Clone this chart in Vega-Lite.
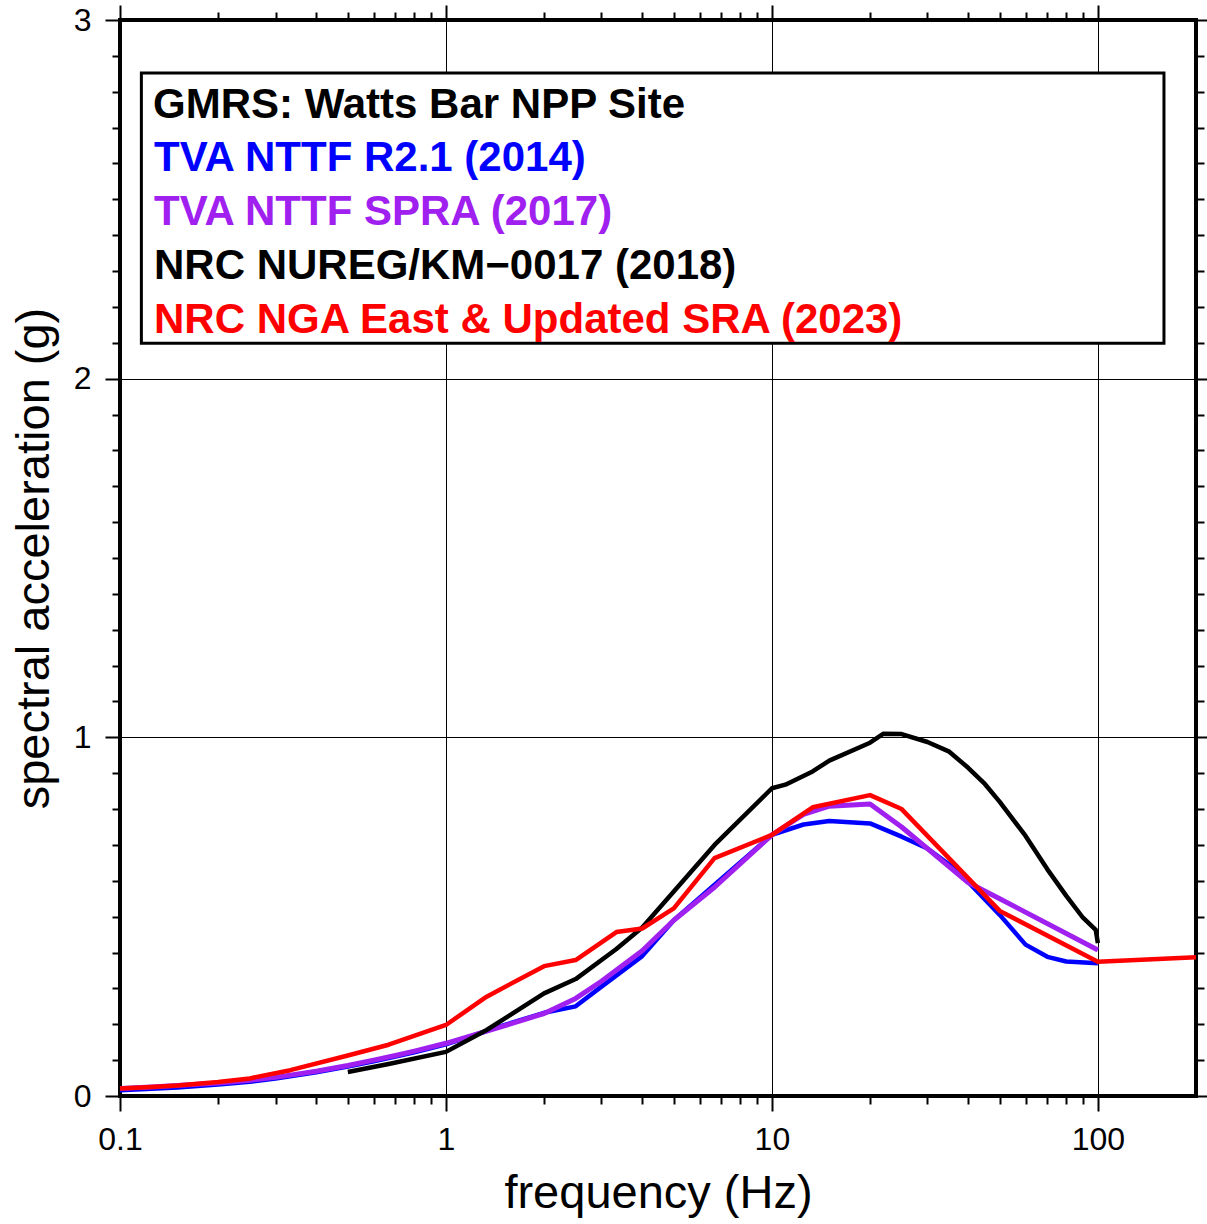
{
  "$schema": "https://vega.github.io/schema/vega-lite/v6.json",
  "width": 1076,
  "height": 1076,
  "autosize": {"type": "none"},
  "padding": {"left": 120, "top": 20, "right": 11, "bottom": 128},
  "background": "white",
  "config": {
    "view": {"stroke": "black", "strokeWidth": 4},
    "font": "Liberation Sans",
    "axis": {
      "domain": false,
      "tickColor": "black",
      "tickWidth": 2,
      "gridColor": "black",
      "gridWidth": 1,
      "gridOpacity": 1,
      "labelColor": "black",
      "titleColor": "black",
      "labelFont": "Liberation Sans",
      "titleFont": "Liberation Sans",
      "titleFontWeight": "normal",
      "labelFlush": false,
      "labelOverlap": false,
      "labelBound": false
    }
  },
  "data": {
    "values": [
      {"series": "TVA NTTF R2.1 (2014)", "freq": 0.1, "sa": 0.016},
      {"series": "TVA NTTF R2.1 (2014)", "freq": 0.125, "sa": 0.020},
      {"series": "TVA NTTF R2.1 (2014)", "freq": 0.15, "sa": 0.024},
      {"series": "TVA NTTF R2.1 (2014)", "freq": 0.2, "sa": 0.032},
      {"series": "TVA NTTF R2.1 (2014)", "freq": 0.25, "sa": 0.040},
      {"series": "TVA NTTF R2.1 (2014)", "freq": 0.3, "sa": 0.049},
      {"series": "TVA NTTF R2.1 (2014)", "freq": 0.4, "sa": 0.066},
      {"series": "TVA NTTF R2.1 (2014)", "freq": 0.5, "sa": 0.082},
      {"series": "TVA NTTF R2.1 (2014)", "freq": 0.6, "sa": 0.097},
      {"series": "TVA NTTF R2.1 (2014)", "freq": 0.7, "sa": 0.110},
      {"series": "TVA NTTF R2.1 (2014)", "freq": 0.8, "sa": 0.122},
      {"series": "TVA NTTF R2.1 (2014)", "freq": 1, "sa": 0.144},
      {"series": "TVA NTTF R2.1 (2014)", "freq": 1.5, "sa": 0.197},
      {"series": "TVA NTTF R2.1 (2014)", "freq": 2, "sa": 0.232},
      {"series": "TVA NTTF R2.1 (2014)", "freq": 2.5, "sa": 0.250},
      {"series": "TVA NTTF R2.1 (2014)", "freq": 3, "sa": 0.305},
      {"series": "TVA NTTF R2.1 (2014)", "freq": 4, "sa": 0.390},
      {"series": "TVA NTTF R2.1 (2014)", "freq": 5, "sa": 0.490},
      {"series": "TVA NTTF R2.1 (2014)", "freq": 10, "sa": 0.728},
      {"series": "TVA NTTF R2.1 (2014)", "freq": 12.5, "sa": 0.757},
      {"series": "TVA NTTF R2.1 (2014)", "freq": 15, "sa": 0.767},
      {"series": "TVA NTTF R2.1 (2014)", "freq": 20, "sa": 0.760},
      {"series": "TVA NTTF R2.1 (2014)", "freq": 25, "sa": 0.723},
      {"series": "TVA NTTF R2.1 (2014)", "freq": 30, "sa": 0.690},
      {"series": "TVA NTTF R2.1 (2014)", "freq": 35, "sa": 0.645},
      {"series": "TVA NTTF R2.1 (2014)", "freq": 40, "sa": 0.597},
      {"series": "TVA NTTF R2.1 (2014)", "freq": 50, "sa": 0.505},
      {"series": "TVA NTTF R2.1 (2014)", "freq": 60, "sa": 0.422},
      {"series": "TVA NTTF R2.1 (2014)", "freq": 70, "sa": 0.388},
      {"series": "TVA NTTF R2.1 (2014)", "freq": 80, "sa": 0.375},
      {"series": "TVA NTTF R2.1 (2014)", "freq": 100, "sa": 0.370},

      {"series": "TVA NTTF SPRA (2017)", "freq": 0.1, "sa": 0.021},
      {"series": "TVA NTTF SPRA (2017)", "freq": 0.125, "sa": 0.025},
      {"series": "TVA NTTF SPRA (2017)", "freq": 0.15, "sa": 0.029},
      {"series": "TVA NTTF SPRA (2017)", "freq": 0.2, "sa": 0.036},
      {"series": "TVA NTTF SPRA (2017)", "freq": 0.25, "sa": 0.044},
      {"series": "TVA NTTF SPRA (2017)", "freq": 0.3, "sa": 0.052},
      {"series": "TVA NTTF SPRA (2017)", "freq": 0.4, "sa": 0.069},
      {"series": "TVA NTTF SPRA (2017)", "freq": 0.5, "sa": 0.085},
      {"series": "TVA NTTF SPRA (2017)", "freq": 0.6, "sa": 0.100},
      {"series": "TVA NTTF SPRA (2017)", "freq": 0.7, "sa": 0.113},
      {"series": "TVA NTTF SPRA (2017)", "freq": 0.8, "sa": 0.125},
      {"series": "TVA NTTF SPRA (2017)", "freq": 1, "sa": 0.147},
      {"series": "TVA NTTF SPRA (2017)", "freq": 1.5, "sa": 0.195},
      {"series": "TVA NTTF SPRA (2017)", "freq": 2, "sa": 0.230},
      {"series": "TVA NTTF SPRA (2017)", "freq": 2.5, "sa": 0.272},
      {"series": "TVA NTTF SPRA (2017)", "freq": 3, "sa": 0.320},
      {"series": "TVA NTTF SPRA (2017)", "freq": 4, "sa": 0.405},
      {"series": "TVA NTTF SPRA (2017)", "freq": 5, "sa": 0.490},
      {"series": "TVA NTTF SPRA (2017)", "freq": 6.667, "sa": 0.582},
      {"series": "TVA NTTF SPRA (2017)", "freq": 10, "sa": 0.728},
      {"series": "TVA NTTF SPRA (2017)", "freq": 12.5, "sa": 0.785},
      {"series": "TVA NTTF SPRA (2017)", "freq": 15, "sa": 0.808},
      {"series": "TVA NTTF SPRA (2017)", "freq": 20, "sa": 0.814},
      {"series": "TVA NTTF SPRA (2017)", "freq": 25, "sa": 0.750},
      {"series": "TVA NTTF SPRA (2017)", "freq": 40, "sa": 0.595},
      {"series": "TVA NTTF SPRA (2017)", "freq": 50, "sa": 0.550},
      {"series": "TVA NTTF SPRA (2017)", "freq": 100, "sa": 0.407},

      {"series": "NRC NUREG/KM−0017 (2018)", "freq": 0.5, "sa": 0.067},
      {"series": "NRC NUREG/KM−0017 (2018)", "freq": 0.667, "sa": 0.089},
      {"series": "NRC NUREG/KM−0017 (2018)", "freq": 1, "sa": 0.123},
      {"series": "NRC NUREG/KM−0017 (2018)", "freq": 1.333, "sa": 0.184},
      {"series": "NRC NUREG/KM−0017 (2018)", "freq": 2, "sa": 0.286},
      {"series": "NRC NUREG/KM−0017 (2018)", "freq": 2.5, "sa": 0.326},
      {"series": "NRC NUREG/KM−0017 (2018)", "freq": 3.333, "sa": 0.410},
      {"series": "NRC NUREG/KM−0017 (2018)", "freq": 4, "sa": 0.470},
      {"series": "NRC NUREG/KM−0017 (2018)", "freq": 5, "sa": 0.570},
      {"series": "NRC NUREG/KM−0017 (2018)", "freq": 6.667, "sa": 0.700},
      {"series": "NRC NUREG/KM−0017 (2018)", "freq": 10, "sa": 0.858},
      {"series": "NRC NUREG/KM−0017 (2018)", "freq": 11, "sa": 0.868},
      {"series": "NRC NUREG/KM−0017 (2018)", "freq": 13.333, "sa": 0.905},
      {"series": "NRC NUREG/KM−0017 (2018)", "freq": 15, "sa": 0.935},
      {"series": "NRC NUREG/KM−0017 (2018)", "freq": 20, "sa": 0.985},
      {"series": "NRC NUREG/KM−0017 (2018)", "freq": 22, "sa": 1.010},
      {"series": "NRC NUREG/KM−0017 (2018)", "freq": 25, "sa": 1.009},
      {"series": "NRC NUREG/KM−0017 (2018)", "freq": 30, "sa": 0.987},
      {"series": "NRC NUREG/KM−0017 (2018)", "freq": 35, "sa": 0.960},
      {"series": "NRC NUREG/KM−0017 (2018)", "freq": 40, "sa": 0.915},
      {"series": "NRC NUREG/KM−0017 (2018)", "freq": 45, "sa": 0.870},
      {"series": "NRC NUREG/KM−0017 (2018)", "freq": 50, "sa": 0.820},
      {"series": "NRC NUREG/KM−0017 (2018)", "freq": 60, "sa": 0.725},
      {"series": "NRC NUREG/KM−0017 (2018)", "freq": 70, "sa": 0.632},
      {"series": "NRC NUREG/KM−0017 (2018)", "freq": 80, "sa": 0.558},
      {"series": "NRC NUREG/KM−0017 (2018)", "freq": 90, "sa": 0.497},
      {"series": "NRC NUREG/KM−0017 (2018)", "freq": 98.5, "sa": 0.463},
      {"series": "NRC NUREG/KM−0017 (2018)", "freq": 100, "sa": 0.426},

      {"series": "NRC NGA East & Updated SRA (2023)", "freq": 0.1, "sa": 0.021},
      {"series": "NRC NGA East & Updated SRA (2023)", "freq": 0.125, "sa": 0.025},
      {"series": "NRC NGA East & Updated SRA (2023)", "freq": 0.15, "sa": 0.029},
      {"series": "NRC NGA East & Updated SRA (2023)", "freq": 0.2, "sa": 0.039},
      {"series": "NRC NGA East & Updated SRA (2023)", "freq": 0.25, "sa": 0.049},
      {"series": "NRC NGA East & Updated SRA (2023)", "freq": 0.333, "sa": 0.072},
      {"series": "NRC NGA East & Updated SRA (2023)", "freq": 0.5, "sa": 0.113},
      {"series": "NRC NGA East & Updated SRA (2023)", "freq": 0.667, "sa": 0.143},
      {"series": "NRC NGA East & Updated SRA (2023)", "freq": 1, "sa": 0.198},
      {"series": "NRC NGA East & Updated SRA (2023)", "freq": 1.333, "sa": 0.277},
      {"series": "NRC NGA East & Updated SRA (2023)", "freq": 2, "sa": 0.362},
      {"series": "NRC NGA East & Updated SRA (2023)", "freq": 2.5, "sa": 0.379},
      {"series": "NRC NGA East & Updated SRA (2023)", "freq": 3.333, "sa": 0.457},
      {"series": "NRC NGA East & Updated SRA (2023)", "freq": 4, "sa": 0.467},
      {"series": "NRC NGA East & Updated SRA (2023)", "freq": 5, "sa": 0.523},
      {"series": "NRC NGA East & Updated SRA (2023)", "freq": 6.667, "sa": 0.663},
      {"series": "NRC NGA East & Updated SRA (2023)", "freq": 10, "sa": 0.728},
      {"series": "NRC NGA East & Updated SRA (2023)", "freq": 13.333, "sa": 0.805},
      {"series": "NRC NGA East & Updated SRA (2023)", "freq": 20, "sa": 0.839},
      {"series": "NRC NGA East & Updated SRA (2023)", "freq": 25, "sa": 0.800},
      {"series": "NRC NGA East & Updated SRA (2023)", "freq": 50, "sa": 0.516},
      {"series": "NRC NGA East & Updated SRA (2023)", "freq": 100, "sa": 0.374},
      {"series": "NRC NGA East & Updated SRA (2023)", "freq": 200, "sa": 0.387}
    ]
  },
  "layer": [
    {
      "data": {"values": [{"box": "legend"}]},
      "mark": {"type": "rect", "fill": "white", "stroke": "black", "strokeWidth": 3},
      "encoding": {
        "x": {"datum": 0.1163, "type": "quantitative", "scale": {"type": "log", "domain": [0.1, 200], "nice": false}, "axis": null},
        "x2": {"datum": 159.5},
        "y": {"datum": 2.852, "type": "quantitative", "scale": {"domain": [0, 3], "nice": false, "zero": false}, "axis": null},
        "y2": {"datum": 2.099}
      }
    },
    {
      "transform": [{"filter": {"field": "series", "equal": "TVA NTTF R2.1 (2014)"}}],
      "mark": {"type": "line", "strokeWidth": 4.5, "strokeJoin": "round", "strokeCap": "butt"},
      "encoding": {
        "x": {
          "field": "freq", "type": "quantitative",
          "scale": {"type": "log", "domain": [0.1, 200], "nice": false},
          "axis": {
            "orient": "bottom", "values": [0.1, 1, 10, 100], "format": "~g",
            "tickSize": 15, "grid": true, "labelFontSize": 32, "labelPadding": 13,
            "title": "frequency (Hz)", "titleFontSize": 47, "titlePadding": 15
          }
        },
        "y": {
          "field": "sa", "type": "quantitative",
          "scale": {"domain": [0, 3], "nice": false, "zero": false},
          "axis": {
            "orient": "left", "values": [0, 1, 2, 3], "format": "d",
            "tickSize": 15, "grid": true, "labelFontSize": 32, "labelPadding": 14,
            "title": "spectral acceleration (g)", "titleFontSize": 47, "titlePadding": 15
          }
        },
        "color": {
          "field": "series", "type": "nominal",
          "scale": {
            "domain": ["TVA NTTF R2.1 (2014)", "TVA NTTF SPRA (2017)", "NRC NUREG/KM−0017 (2018)", "NRC NGA East & Updated SRA (2023)"],
            "range": ["#0000ff", "#a020f0", "#000000", "#ff0000"]
          },
          "legend": {
            "orient": "none", "direction": "vertical", "legendX": 33, "legendY": 65,
            "title": "GMRS: Watts Bar NPP Site",
            "titleFont": "Liberation Sans", "titleFontSize": 42, "titleFontWeight": "bold", "titleColor": "black",
            "titleLimit": 2000, "titlePadding": 10,
            "labelFont": "Liberation Sans", "labelFontSize": 42, "labelFontWeight": "bold", "labelLimit": 2000,
            "labelOffset": -41, "symbolType": "circle", "symbolSize": 0, "symbolStrokeWidth": 0, "symbolOpacity": 0,
            "rowPadding": 12, "padding": 0,
            "encode": {"labels": {"update": {"fill": {"signal": "scale('color', datum.value)"}}}}
          }
        }
      }
    },
    {
      "transform": [{"filter": {"field": "series", "equal": "TVA NTTF SPRA (2017)"}}],
      "mark": {"type": "line", "strokeWidth": 5, "strokeJoin": "round", "strokeCap": "butt"},
      "encoding": {
        "x": {
          "field": "freq", "type": "quantitative",
          "scale": {"type": "log", "domain": [0.1, 200], "nice": false},
          "axis": {
            "orient": "bottom", "values": [0.2, 0.3, 0.4, 0.5, 0.6, 0.7, 0.8, 0.9, 2, 3, 4, 5, 6, 7, 8, 9, 20, 30, 40, 50, 60, 70, 80, 90],
            "tickSize": 8, "grid": false, "labels": false, "title": null
          }
        },
        "y": {
          "field": "sa", "type": "quantitative",
          "scale": {"domain": [0, 3], "nice": false, "zero": false},
          "axis": {
            "orient": "left", "values": [0.1, 0.2, 0.3, 0.4, 0.5, 0.6, 0.7, 0.8, 0.9, 1.1, 1.2, 1.3, 1.4, 1.5, 1.6, 1.7, 1.8, 1.9, 2.1, 2.2, 2.3, 2.4, 2.5, 2.6, 2.7, 2.8, 2.9],
            "tickSize": 8, "grid": false, "labels": false, "title": null
          }
        },
        "color": {"field": "series", "type": "nominal"}
      }
    },
    {
      "transform": [{"filter": {"field": "series", "equal": "NRC NUREG/KM−0017 (2018)"}}],
      "mark": {"type": "line", "strokeWidth": 4.5, "strokeJoin": "round", "strokeCap": "butt"},
      "encoding": {
        "x": {
          "field": "freq", "type": "quantitative",
          "scale": {"type": "log", "domain": [0.1, 200], "nice": false},
          "axis": {"orient": "top", "values": [0.1, 1, 10, 100], "tickSize": 15, "grid": false, "labels": false, "title": null}
        },
        "y": {
          "field": "sa", "type": "quantitative",
          "scale": {"domain": [0, 3], "nice": false, "zero": false},
          "axis": {"orient": "right", "values": [0, 1, 2, 3], "tickSize": 15, "grid": false, "labels": false, "title": null}
        },
        "color": {"field": "series", "type": "nominal"}
      }
    },
    {
      "transform": [{"filter": {"field": "series", "equal": "NRC NGA East & Updated SRA (2023)"}}],
      "mark": {"type": "line", "strokeWidth": 4.5, "strokeJoin": "round", "strokeCap": "butt"},
      "encoding": {
        "x": {
          "field": "freq", "type": "quantitative",
          "scale": {"type": "log", "domain": [0.1, 200], "nice": false},
          "axis": {
            "orient": "top", "values": [0.2, 0.3, 0.4, 0.5, 0.6, 0.7, 0.8, 0.9, 2, 3, 4, 5, 6, 7, 8, 9, 20, 30, 40, 50, 60, 70, 80, 90],
            "tickSize": 8, "grid": false, "labels": false, "title": null
          }
        },
        "y": {
          "field": "sa", "type": "quantitative",
          "scale": {"domain": [0, 3], "nice": false, "zero": false},
          "axis": {
            "orient": "right", "values": [0.1, 0.2, 0.3, 0.4, 0.5, 0.6, 0.7, 0.8, 0.9, 1.1, 1.2, 1.3, 1.4, 1.5, 1.6, 1.7, 1.8, 1.9, 2.1, 2.2, 2.3, 2.4, 2.5, 2.6, 2.7, 2.8, 2.9],
            "tickSize": 8, "grid": false, "labels": false, "title": null
          }
        },
        "color": {"field": "series", "type": "nominal"}
      }
    }
  ],
  "resolve": {"axis": {"x": "independent", "y": "independent"}}
}
